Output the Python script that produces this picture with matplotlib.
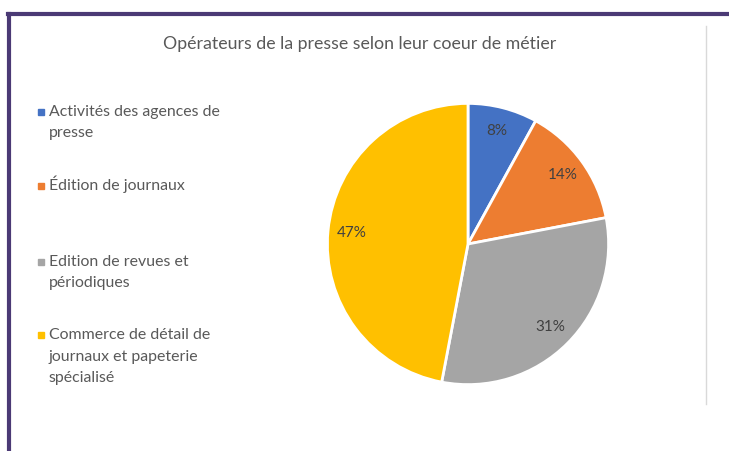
import matplotlib.pyplot as plt
from matplotlib.lines import Line2D
from matplotlib.patches import Rectangle

# Données
categories = ['Activités des agences de\npresse',
              'Édition de journaux',
              'Edition de revues et\npériodiques',
              'Commerce de détail de\njournaux et papeterie\nspécialisé']
parts = [8, 14, 31, 47]
couleurs = ['#4472C4', '#ED7D31', '#A5A5A5', '#FFC000']
titre = 'Opérateurs de la presse selon leur coeur de métier'

plt.rcParams['font.family'] = ['Lato', 'DejaVu Sans']

W, H = 729, 451
fig = plt.figure(figsize=(W / 100, H / 100), dpi=100)

def fx(px):
    return px / W

def fy(py):
    return 1 - py / H

# cadre violet (gauche et haut)
fig.add_artist(Line2D([fx(9), fx(9)], [fy(14), 0], transform=fig.transFigure,
                      color='#4B3A75', lw=3))
fig.add_artist(Line2D([fx(8), 1], [fy(14), fy(14)], transform=fig.transFigure,
                      color='#4B3A75', lw=3))
# ligne grise verticale
fig.add_artist(Line2D([fx(706), fx(706)], [fy(26), fy(404)], transform=fig.transFigure,
                      color='#D9D9D9', lw=1))

fig.text(fx(360), fy(44), titre, ha='center', va='center', fontsize=12.8, color='#595959')

# camembert
cx, cy, r = 468, 244, 142
ax = fig.add_axes([fx(cx - r), fy(cy + r), 2 * r / W, 2 * r / H])
wedges, texts, autotexts = ax.pie(parts, colors=couleurs, startangle=90, counterclock=False,
                                  autopct='%d%%', pctdistance=0.83,
                                  wedgeprops=dict(edgecolor='white', linewidth=2))
for t in autotexts:
    t.set_color('#404040')
    t.set_fontsize(11)
ax.set_xlim(-1.01, 1.01)
ax.set_ylim(-1.01, 1.01)
ax.set_aspect('equal')
ax.axis('off')

# légende (une ligne de texte à la fois, alignée sur la ligne de base)
legende_y = [111, 185, 261, 334]
for lab, col, y0 in zip(categories, couleurs, legende_y):
    fig.add_artist(Rectangle((fx(38), fy(y0 + 4)), fx(6), 6 / H, transform=fig.transFigure,
                             color=col))
    for i, ligne in enumerate(lab.split('\n')):
        fig.text(fx(49), fy(y0 + 5 + 21.5 * i), ligne, ha='left', va='baseline',
                 fontsize=11.4, color='#595959')

fig.savefig('out.png', dpi=100)
